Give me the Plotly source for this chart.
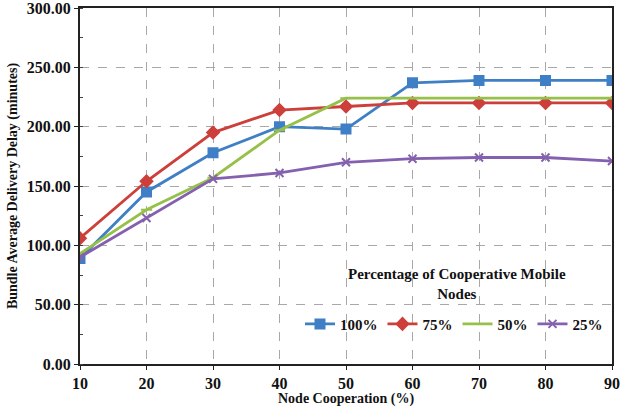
import plotly.graph_objects as go

x_vals = [10, 20, 30, 40, 50, 60, 70, 80, 90]
s100 = [89, 145, 178, 200, 198, 237, 239, 239, 239]
s75 = [106, 154, 195, 214, 217, 220, 220, 220, 220]
s50 = [93, 130, 157, 197, 224, 224, 224, 224, 224]
s25 = [90, 123, 156, 161, 170, 173, 174, 174, 171]
names = ["100%", "75%", "50%", "25%"]
colors = ["#3F7FC6", "#CC3F3A", "#96C04A", "#8460AE"]
symbols = ["square", "diamond", "line-ew", "x-thin"]
y_ticks = [0, 50, 100, 150, 200, 250, 300]

font_family = "Liberation Serif"
fig = go.Figure()
for name, ys, col, sym in zip(names, [s100, s75, s50, s25], colors, symbols):
    msize = {"square": 9, "diamond": 9, "line-ew": 8, "x-thin": 8}[sym]
    fig.add_trace(go.Scatter(
        x=x_vals, y=ys, name=f"<b>{name}</b>", mode="lines+markers",
        line=dict(color=col, width=2.8),
        marker=dict(symbol=sym, size=msize, color=col,
                    line=dict(color=col, width=2)),
    ))

# white legend panel (covers grid only)
fig.add_shape(type="rect", xref="paper", yref="paper",
              x0=0.423, x1=0.996, y0=0.053, y1=0.287,
              fillcolor="white", line=dict(width=0), layer="between")

fig.add_annotation(
    text="<b>Percentage of Cooperative Mobile<br>Nodes</b>", xref="paper", yref="paper",
    x=0.709, y=0.281, xanchor="center", yanchor="top", showarrow=False,
    font=dict(size=15, family=font_family, color="#111"),
)

fig.add_annotation(
    text="<b>Node Cooperation (%)</b>", xref="paper", yref="paper",
    x=0.5, y=-0.071, xanchor="center", yanchor="top", showarrow=False,
    font=dict(size=14, family=font_family, color="#111"),
)

fig.update_layout(
    width=624, height=406,
    margin=dict(l=80, r=12, t=8, b=42),
    paper_bgcolor="white", plot_bgcolor="white",
    font=dict(family=font_family, color="#111", size=15),
    legend=dict(
        orientation="h", x=0.703, y=0.112, xanchor="center", yanchor="middle",
        bgcolor="rgba(0,0,0,0)", font=dict(size=15, family=font_family),
        tracegroupgap=0, itemwidth=30,
    ),
    xaxis=dict(
        range=[10, 90], tickvals=x_vals,
        ticktext=[f"<b>{v}</b>" for v in x_vals],
        showgrid=True, gridcolor="#a8a8a8", griddash="dash", gridwidth=1,
        showline=True, linecolor="#222", linewidth=2, mirror=True,
        ticks="outside", ticklen=4, tickcolor="#222",
        tickfont=dict(size=16, family=font_family),
        ticklabeloverflow="allow",
        zeroline=False, automargin=False,
    ),
    yaxis=dict(
        range=[0, 300], tickvals=y_ticks,
        ticktext=[f"<b>{v:.2f}</b>" for v in y_ticks],
        showgrid=True, gridcolor="#a8a8a8", griddash="dash", gridwidth=1,
        showline=True, linecolor="#222", linewidth=2, mirror=True,
        ticks="outside", ticklen=4, tickcolor="#222",
        tickfont=dict(size=16, family=font_family),
        ticklabeloverflow="allow",
        minor=dict(dtick=25, ticks="inside", ticklen=3, tickcolor="#444", showgrid=False),
        title=dict(text="<b>Bundle Average Delivery Delay (minutes)</b>", font=dict(size=14, family=font_family), standoff=6),
        zeroline=False, automargin=False,
    ),
)

fig.write_html("out.html")
